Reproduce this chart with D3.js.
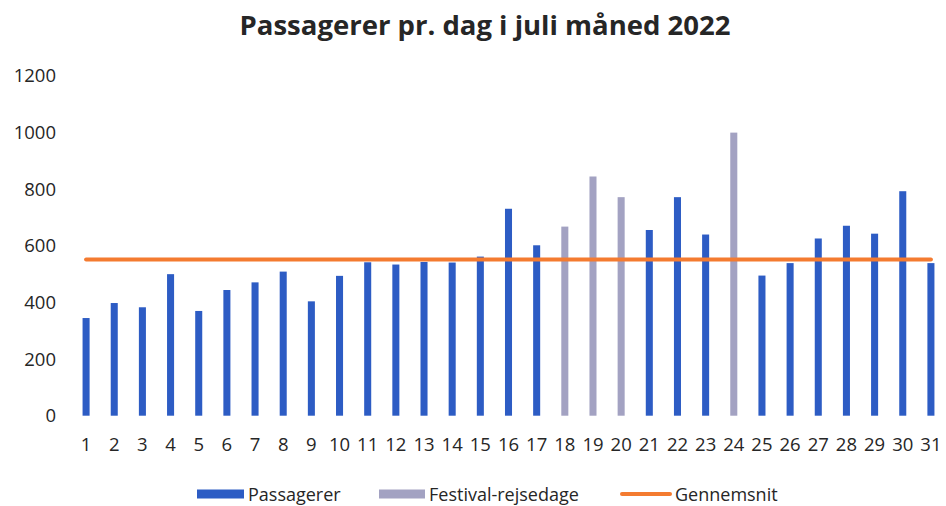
<!DOCTYPE html>
<html>
<head>
<meta charset="utf-8">
<script src="https://cdn.jsdelivr.net/npm/d3@7"></script>
<style>
  body { margin: 0; background: #fff; }
  svg text { font-family: "Open Sans", "Noto Sans", sans-serif; fill: #262626; }
</style>
</head>
<body>
<svg id="chart" width="946" height="506"></svg>
<script>
var days = d3.range(1, 32);
var passengers = [345, 398, 383, 500, 370, 444, 471, 509, 404, 494,
                  542, 534, 543, 541, 562, 731, 602, 668, 845, 772,
                  656, 772, 640, 1000, 495, 539, 626, 671, 643, 793, 539];
var festivalDays = [18, 19, 20, 24];
var average = 552;
var yTicks = [0, 200, 400, 600, 800, 1000, 1200];
var titleText = "Passagerer pr. dag i juli måned 2022";
var legendItems = ["Passagerer", "Festival-rejsedage", "Gennemsnit"];

var blue = "#2d5cc4", grey = "#a3a2c2", orange = "#f47b30";

var svg = d3.select("#chart");

var x = d3.scaleBand()
    .domain(days)
    .range([72, 945])
    .paddingInner(0.75)
    .paddingOuter(0.375);

var y = d3.scaleLinear()
    .domain([0, 1200])
    .range([415.7, 76]);

// title
svg.append("text")
    .attr("x", 485)
    .attr("y", 35)
    .attr("text-anchor", "middle")
    .style("font-size", "27.5px")
    .style("font-weight", "bold")
    .text(titleText);

// y axis labels (no line, no ticks)
var yAxis = svg.append("g")
    .attr("transform", "translate(62,0)")
    .call(d3.axisLeft(y).tickValues(yTicks).tickFormat(d3.format("d")).tickSize(0).tickPadding(6));
yAxis.select(".domain").remove();
yAxis.selectAll("text")
    .style("font-family", "'Open Sans', sans-serif")
    .style("font-size", "18.5px")
    .attr("fill", "#333");

// x axis labels
var xAxis = svg.append("g")
    .attr("transform", "translate(0,431)")
    .call(d3.axisBottom(x).tickSize(0).tickPadding(7));
xAxis.select(".domain").remove();
xAxis.selectAll("text")
    .style("font-family", "'Open Sans', sans-serif")
    .style("font-size", "18.5px")
    .attr("fill", "#333");

// bars
svg.append("g").selectAll("rect")
    .data(days)
    .enter()
    .append("rect")
    .attr("x", function(d) { return x(d); })
    .attr("width", x.bandwidth())
    .attr("y", function(d) { return y(passengers[d - 1]); })
    .attr("height", function(d) { return y(0) - y(passengers[d - 1]); })
    .attr("fill", function(d) { return festivalDays.indexOf(d) >= 0 ? grey : blue; });

// average line
var line = d3.line()
    .x(function(d) { return x(d) + x.bandwidth() / 2; })
    .y(function() { return y(average); });

svg.append("path")
    .datum([days[0], days[days.length - 1]])
    .attr("d", line)
    .attr("fill", "none")
    .attr("stroke", orange)
    .attr("stroke-width", 4)
    .attr("stroke-linecap", "round");

// legend
var legend = svg.append("g").attr("transform", "translate(0,494)");
var legX = [197, 379, 622];

legend.append("rect").attr("x", legX[0]).attr("y", -4.5).attr("width", 47).attr("height", 9).attr("fill", blue);
legend.append("rect").attr("x", legX[1]).attr("y", -4.5).attr("width", 46).attr("height", 9).attr("fill", grey);
legend.append("line").attr("x1", legX[2]).attr("x2", legX[2] + 48).attr("y1", 0).attr("y2", 0)
    .attr("stroke", orange).attr("stroke-width", 4).attr("stroke-linecap", "round");

legend.selectAll("text.leg")
    .data(legendItems)
    .enter()
    .append("text")
    .attr("class", "leg")
    .attr("x", function(d, i) { return legX[i] + [51, 50, 53][i]; })
    .attr("y", 6.5)
    .style("font-size", "18px")
    .attr("fill", "#333")
    .text(function(d) { return d; });
</script>
</body>
</html>
